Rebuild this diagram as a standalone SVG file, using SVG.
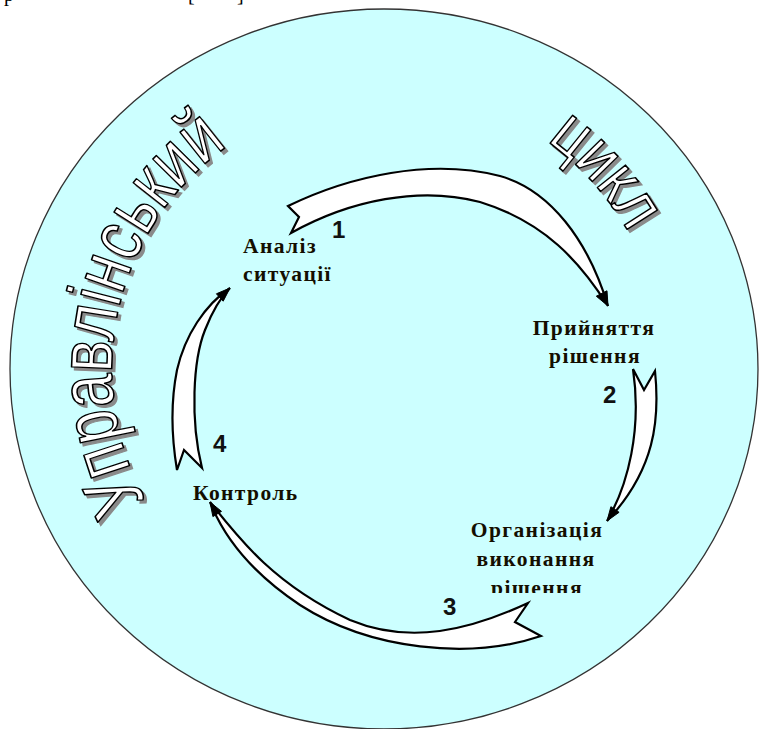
<svg xmlns="http://www.w3.org/2000/svg" width="760" height="729" viewBox="0 0 760 729">
<style>
.node{font-family:"Liberation Serif","Times New Roman",serif;font-weight:bold;font-size:21.5px;letter-spacing:1.4px;fill:#140e00}
.num{font-family:"Liberation Sans",Arial,sans-serif;font-weight:bold;font-size:24px;fill:#111}
.arrow{fill:#fff;stroke:#000;stroke-width:2.2;stroke-linejoin:miter}
.head{fill:#000;stroke:#000;stroke-width:1}
.wa{font-family:"Liberation Sans",Arial,sans-serif;font-size:76px}
.wa-small{font-size:68px}
.wa-shadow{fill:#8a8a8a;stroke:#8a8a8a;stroke-width:1.5}
.wa-front{fill:#fff;stroke:#000;stroke-width:1.6;stroke-linejoin:round}
.top{font-family:"Liberation Serif","Times New Roman",serif;font-size:20px;fill:#000}
</style>
<defs>
<path id="arcL" d="M175.6,543.8 A272,272 0 0 1 291.0,113.4"/>
<path id="arcR" d="M479.8,105.9 A280,280 0 0 1 664,369"/>
<clipPath id="clipOrg"><rect x="440" y="500" width="220" height="93"/></clipPath>
</defs>
<rect width="760" height="729" fill="#fff"/>
<g id="top-fragment">
<text class="top" x="4" y="1">р</text>
<text class="top" x="188" y="1">[</text>
<text class="top" x="237" y="1">]</text>
</g>
<g id="background">
<ellipse cx="384" cy="369" rx="374" ry="360" fill="#ccffff" stroke="#333" stroke-width="1.3"/>
</g>
<g id="title-left">
<text class="wa wa-shadow" transform="translate(3,3)"><textPath href="#arcL" startOffset="52" textLength="399" lengthAdjust="spacingAndGlyphs">Управлінський</textPath></text>
<text class="wa wa-front"><textPath href="#arcL" startOffset="52" textLength="399" lengthAdjust="spacingAndGlyphs">Управлінський</textPath></text>
</g>
<g id="title-right">
<text class="wa wa-small wa-shadow" transform="translate(3,3)"><textPath href="#arcR" startOffset="76" textLength="124" lengthAdjust="spacingAndGlyphs">цикл</textPath></text>
<text class="wa wa-small wa-front"><textPath href="#arcR" startOffset="76" textLength="124" lengthAdjust="spacingAndGlyphs">цикл</textPath></text>
</g>
<g id="connectors">
<g id="arrow1">
<path class="arrow" d="M288,206 C350,176 430,158 500,176 C550,190 588,240 608,306 C580,262 545,222 480,202 C420,186 350,200 291,233 L299,217 Z"/>
<polygon class="head" points="608,306 607,290.8 596.3,296.2"/>
</g>
<g id="arrow2">
<path class="arrow" d="M655,371 C660,420 655,470 607,521 C628,485 642,430 633,369 L644,390 Z"/>
<polygon class="head" points="607,521 619.1,512.3 610.9,506.7"/>
</g>
<g id="arrow3">
<path class="arrow" d="M541,636 C470,660 370,650 300,605 C255,575 225,540 210,502 C240,540 275,585 350,620 C410,645 470,630 528,603 L515,622 Z"/>
<polygon class="head" points="210,502 221.5,511.4 212.9,516.6"/>
</g>
<g id="arrow4">
<path class="arrow" d="M202,468 C190,420 193,360 205,330 C212,312 220,298 230,288 C205,305 185,335 177,370 C170,405 172,440 177,470 L184,450 Z"/>
<polygon class="head" points="230,288 223.2,301.2 216.4,293.8"/>
</g>
<text class="num" x="332" y="238">1</text>
<text class="num" x="603" y="403">2</text>
<text class="num" x="443" y="615">3</text>
<text class="num" x="213" y="452">4</text>
</g>
<g id="node-analysis">
<text class="node" x="243" y="253">Аналіз</text>
<text class="node" x="243" y="281">ситуації</text>
</g>
<g id="node-decision">
<text class="node" x="594" y="335" text-anchor="middle">Прийняття</text>
<text class="node" x="595" y="363" text-anchor="middle">рішення</text>
</g>
<g id="node-organization" clip-path="url(#clipOrg)">
<text class="node" x="537" y="537" text-anchor="middle">Організація</text>
<text class="node" x="536" y="566" text-anchor="middle">виконання</text>
<text class="node" x="537" y="595" text-anchor="middle">рішення</text>
</g>
<g id="node-control">
<text class="node" x="193" y="500">Контроль</text>
</g>
</svg>
